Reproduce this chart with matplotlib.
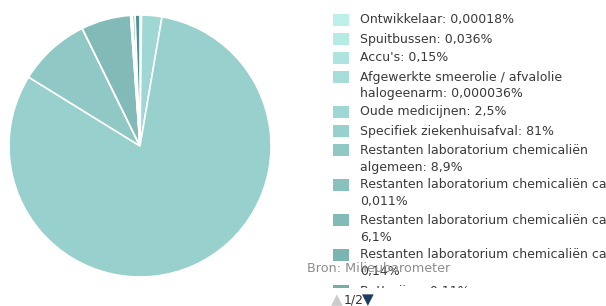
import matplotlib
matplotlib.use("Agg")
import matplotlib.pyplot as plt
from matplotlib.patches import Rectangle

# ---- data ----
labels = [
    "Ontwikkelaar: 0,00018%",
    "Spuitbussen: 0,036%",
    "Accu's: 0,15%",
    "Afgewerkte smeerolie / afvalolie\nhalogeenarm: 0,000036%",
    "Oude medicijnen: 2,5%",
    "Specifiek ziekenhuisafval: 81%",
    "Restanten laboratorium chemicaliën\nalgemeen: 8,9%",
    "Restanten laboratorium chemicaliën cat. A:\n0,011%",
    "Restanten laboratorium chemicaliën cat. B:\n6,1%",
    "Restanten laboratorium chemicaliën cat. C:\n0,14%",
    "Batterijen: 0,11%",
    "Overig 1",
    "Overig 2",
]
values = [0.00018, 0.036, 0.15, 0.000036, 2.5, 81, 8.9, 0.011, 6.1, 0.14, 0.11, 0.3, 0.6]
colors = ["#bdf0ea", "#b5eae5", "#ade4df", "#a6ddd9", "#9fd7d4", "#97d0cd",
          "#8fc8c5", "#88c1be", "#81bab7", "#7bb4b1", "#74aeab", "#62a19d", "#4d938f"]
n_legend = 11
source = "Bron: Milieubarometer"
pager = "1/2"

W, H = 606, 306
fig = plt.figure(figsize=(W / 100, H / 100), dpi=100)
fig.patch.set_facecolor("white")

# ---- pie ----
cx, cy, r = 140, 146, 131
ax = fig.add_axes([(cx - r) / W, (H - cy - r) / H, 2 * r / W, 2 * r / H])
ax.pie(values, colors=colors, startangle=90, counterclock=False, radius=1,
       wedgeprops=dict(edgecolor="white", linewidth=1.2))
ax.set_xlim(-1, 1)
ax.set_ylim(-1, 1)
ax.axis("off")

# ---- legend (clipped, paged) ----
lx0, ly_top, ly_bot = 320, 0, 287.5
lax = fig.add_axes([lx0 / W, (H - ly_bot) / H, (W - lx0) / W, (ly_bot - ly_top) / H])
lax.set_xlim(lx0, W)
lax.set_ylim(ly_bot, ly_top)
lax.axis("off")

y = 20
line_h = 17
fs = 9.0
for i in range(n_legend):
    lab = labels[i]
    parts = lab.split("\n")
    yy = y + (1 if i == n_legend - 1 else 0)
    lax.add_patch(Rectangle((333, yy - 6), 16, 12, facecolor=colors[i],
                            edgecolor="none", clip_on=True))
    for k, part in enumerate(parts):
        lax.text(360, yy + k * line_h, part, fontsize=fs, color="#3a3a3a",
                 va="center", ha="left", clip_on=True)
    y += 19 if len(parts) == 1 else line_h * (len(parts) - 1) + 18

# ---- source and pager ----
fig.text(307 / W, 1 - 268 / H, source, fontsize=9.2, color="#8c8c8c",
         va="center", ha="left")
fig.text(331 / W, 1 - 300 / H, "▲", fontsize=11, color="#cccccc",
         va="center", ha="left")
fig.text(344 / W, 1 - 300 / H, pager, fontsize=9, color="#333333",
         va="center", ha="left")
fig.text(362 / W, 1 - 300 / H, "▼", fontsize=11, color="#1f3b63",
         va="center", ha="left")

fig.savefig("out.png", dpi=100, facecolor="white")
